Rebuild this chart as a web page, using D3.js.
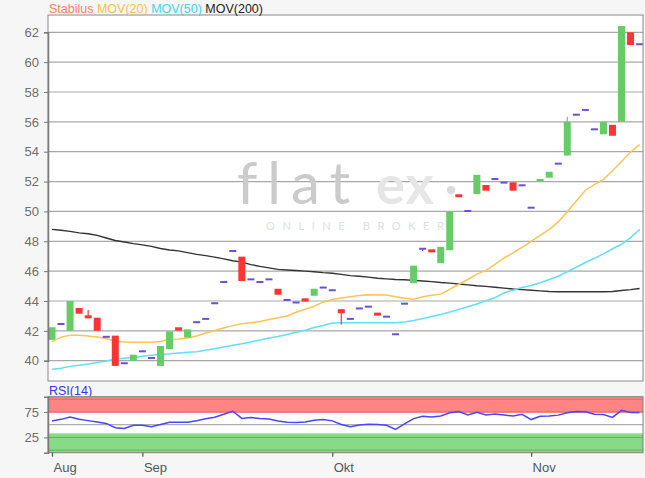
<!DOCTYPE html>
<html><head><meta charset="utf-8">
<script src="https://cdn.jsdelivr.net/npm/d3@7"></script>
<style>
html,body{margin:0;padding:0;background:#f6f6f6;}
svg{display:block;font-family:"Liberation Sans",Arial,sans-serif;}
</style></head><body>
<svg id="c" width="645" height="478"></svg>
<script>
// ---------- data ----------
const dates = [
 "2023-08-18","2023-08-21","2023-08-22","2023-08-23","2023-08-24","2023-08-25","2023-08-28","2023-08-29","2023-08-30","2023-08-31",
 "2023-09-01","2023-09-04","2023-09-05","2023-09-06","2023-09-07","2023-09-08","2023-09-11","2023-09-12","2023-09-13","2023-09-14",
 "2023-09-15","2023-09-18","2023-09-19","2023-09-20","2023-09-21","2023-09-22","2023-09-25","2023-09-26","2023-09-27","2023-09-28",
 "2023-09-29","2023-10-02","2023-10-03","2023-10-04","2023-10-05","2023-10-06","2023-10-09","2023-10-10","2023-10-11","2023-10-12",
 "2023-10-13","2023-10-16","2023-10-17","2023-10-18","2023-10-19","2023-10-20","2023-10-23","2023-10-24","2023-10-25","2023-10-26",
 "2023-10-27","2023-10-30","2023-10-31","2023-11-01","2023-11-02","2023-11-03","2023-11-06","2023-11-07","2023-11-08","2023-11-09",
 "2023-11-10","2023-11-13","2023-11-14","2023-11-15","2023-11-16","2023-11-17"];
const open = [
 41.40,42.46,42.00,43.53,43.04,42.88,41.60,41.68,39.83,39.98,
 40.63,40.18,39.65,40.77,42.24,41.55,42.58,42.80,43.85,45.27,
 47.35,46.97,45.45,45.27,45.45,44.82,44.07,43.90,44.18,44.35,
 44.90,44.72,43.45,42.80,43.50,43.62,43.22,42.95,41.77,43.82,
 45.19,47.50,47.46,46.53,47.40,51.15,50.03,51.17,51.77,52.17,
 51.93,51.95,51.75,50.25,52.00,52.26,53.20,53.75,56.48,56.80,
 55.50,55.17,55.80,56.00,62.00,61.20];
const close = [
 42.24,42.46,44.00,43.15,42.84,42.00,41.60,39.65,39.83,40.40,
 40.63,40.18,40.99,41.97,42.01,42.10,42.58,42.80,43.85,45.27,
 47.35,45.34,45.45,45.27,45.45,44.42,44.07,43.90,43.96,44.82,
 44.90,44.72,43.18,42.80,43.50,43.62,43.02,42.95,41.77,43.82,
 46.37,47.50,47.26,47.63,50.00,50.95,50.03,52.45,51.39,52.17,
 51.93,51.39,51.75,50.25,52.17,52.66,53.20,56.00,56.48,56.80,
 55.50,56.00,55.07,62.42,61.15,61.20];
const high = [
 42.24,42.46,44.00,43.53,43.40,42.88,41.60,41.68,39.83,40.40,
 40.63,40.18,40.99,41.97,42.24,42.10,42.58,42.80,43.85,45.27,
 47.35,46.97,45.45,45.27,45.45,44.82,44.07,43.90,44.18,44.82,
 44.90,44.72,43.45,42.80,43.50,43.62,43.22,42.95,41.77,43.82,
 46.37,47.50,47.46,47.63,50.00,51.15,50.03,52.45,51.77,52.17,
 51.93,51.95,51.75,50.25,52.17,52.66,53.20,56.35,56.48,56.80,
 55.50,56.00,55.80,62.42,62.00,61.20];
const low = [
 41.40,42.46,42.00,43.15,42.84,42.00,41.60,39.65,39.83,39.98,
 40.63,40.18,39.65,40.77,42.01,41.55,42.58,42.80,43.85,45.27,
 47.35,45.34,45.45,45.27,45.45,44.42,44.07,43.90,43.96,44.35,
 44.90,44.72,42.40,42.80,43.50,43.62,43.02,42.95,41.77,43.82,
 45.19,47.35,47.26,46.53,47.40,50.95,50.03,51.17,51.39,52.17,
 51.93,51.39,51.75,50.25,52.00,52.26,53.20,53.75,56.48,56.80,
 55.50,55.17,55.07,56.00,61.15,61.20];
const mov20 = [
 41.28,41.58,41.70,41.70,41.66,41.58,41.48,41.32,41.25,41.24,
 41.24,41.24,41.28,41.44,41.46,41.52,41.66,41.85,42.02,42.19,
 42.35,42.48,42.55,42.62,42.76,42.88,43.00,43.25,43.45,43.65,
 43.92,44.10,44.20,44.28,44.36,44.42,44.40,44.40,44.28,44.18,
 44.12,44.28,44.38,44.46,44.78,45.12,45.44,45.80,46.05,46.46,
 46.88,47.22,47.60,48.00,48.40,48.80,49.30,49.98,50.70,51.42,
 51.80,52.15,52.72,53.35,53.98,54.48];
const mov50 = [
 39.43,39.50,39.62,39.70,39.78,39.88,39.98,40.10,40.16,40.22,
 40.30,40.36,40.42,40.46,40.52,40.56,40.60,40.70,40.80,40.92,
 41.04,41.14,41.26,41.38,41.52,41.62,41.76,41.90,42.04,42.22,
 42.36,42.52,42.55,42.55,42.55,42.55,42.55,42.55,42.55,42.60,
 42.70,42.82,42.96,43.10,43.26,43.44,43.62,43.80,44.02,44.22,
 44.54,44.72,44.90,45.04,45.22,45.44,45.66,45.96,46.26,46.58,
 46.86,47.16,47.50,47.80,48.24,48.80];
const mov200 = [
 48.80,48.74,48.66,48.56,48.50,48.40,48.22,48.05,47.95,47.84,
 47.76,47.66,47.52,47.42,47.36,47.24,47.12,47.04,46.94,46.82,
 46.70,46.60,46.44,46.32,46.22,46.12,46.08,46.04,46.00,45.96,
 45.90,45.86,45.78,45.70,45.66,45.60,45.52,45.48,45.44,45.42,
 45.38,45.34,45.30,45.24,45.20,45.14,45.08,45.02,44.98,44.92,
 44.86,44.80,44.76,44.72,44.68,44.64,44.62,44.62,44.62,44.62,
 44.62,44.62,44.64,44.70,44.76,44.84];
const rsi = [
 57.4,60.5,65.0,60.8,58.0,55.5,52.5,44.0,42.6,48.8,
 49.0,46.0,50.4,55.0,54.9,54.9,57.8,61.5,64.5,70.5,
 76.4,62.3,64.0,62.1,61.2,57.2,55.0,54.3,55.2,58.6,
 60.1,57.5,50.5,46.0,49.5,51.0,50.4,49.0,40.8,51.5,
 62.0,66.4,65.2,67.2,73.6,75.8,69.2,74.4,69.3,71.1,
 69.0,67.2,70.4,60.1,66.5,67.0,68.8,73.6,75.8,75.2,
 70.6,70.0,64.3,78.3,73.8,73.8];
const priceTicks = [40,42,44,46,48,50,52,54,56,58,60,62];
const rsiTicks = [25,75];
const monthTickDates = ["2023-08-18","2023-09-01","2023-10-02","2023-11-01"];
const monthTickLabels = ["Aug","Sep","Okt","Nov"];
const legendItems = ["Stabilus","MOV(20)","MOV(50)","MOV(200)"];

// ---------- layout ----------
const L = 48, R = 643;
const mainTop = 15, mainBot = 381;
const rsiTop = 396.7, rsiBot = 452.7;
const svg = d3.select("#c");

const xs = d3.scalePoint().domain(dates).range([52, 639.6]);
const ys = d3.scaleLinear().domain([40, 62]).range([360.7, 32.3]);
const rs = d3.scaleLinear().domain([-5, 105]).range([rsiBot, rsiTop]);

// main plot background
svg.append("rect").attr("x", L).attr("y", mainTop).attr("width", R - L).attr("height", mainBot - mainTop).attr("fill", "#fff");

// grid
svg.append("g").selectAll("line").data(priceTicks).join("line")
  .attr("x1", L).attr("x2", R).attr("y1", d => ys(d)).attr("y2", d => ys(d))
  .attr("stroke", "#a8a8a8").attr("stroke-width", 1.2);

// watermark
const wm = svg.append("g");
wm.append("text").attr("x", 237).attr("y", 204).text("flat")
  .attr("font-family", "Lato, 'Open Sans', sans-serif").attr("font-weight", 400)
  .attr("font-size", 58).attr("letter-spacing", 10).attr("fill", "#cbcbcb");
wm.append("text").attr("x", 376).attr("y", 204).text("ex")
  .attr("font-family", "Lato, 'Open Sans', sans-serif").attr("font-weight", 700)
  .attr("font-size", 54).attr("letter-spacing", 1).attr("fill", "#e6e6e6");
wm.append("circle").attr("cx", 451).attr("cy", 190).attr("r", 4).attr("fill", "#dadada");
wm.append("text").attr("x", 266).attr("y", 230).text("ONLINE BROKER")
  .attr("font-family", "Lato, 'Open Sans', sans-serif").attr("font-size", 11)
  .attr("letter-spacing", 7.6).attr("fill", "#e0e0e0");

// moving averages
const line = arr => d3.line().x((d, i) => xs(dates[i])).y(d => ys(d))(arr);
svg.append("path").attr("d", line(mov200)).attr("fill", "none").attr("stroke", "#333").attr("stroke-width", 1.4);
svg.append("path").attr("d", line(mov50)).attr("fill", "none").attr("stroke", "#5fe0f7").attr("stroke-width", 1.5);
svg.append("path").attr("d", line(mov20)).attr("fill", "none").attr("stroke", "#ffc450").attr("stroke-width", 1.5);

// candles
const idx = d3.range(dates.length);
const col = i => open[i] === close[i] ? "#6b4fd8" : (close[i] > open[i] ? "#66cc66" : "#ff3333");
const cg = svg.append("g");
cg.selectAll("line").data(idx.filter(i => high[i] > Math.max(open[i], close[i]) || low[i] < Math.min(open[i], close[i])))
  .join("line")
  .attr("x1", i => xs(dates[i])).attr("x2", i => xs(dates[i]))
  .attr("y1", i => ys(high[i])).attr("y2", i => ys(low[i]))
  .attr("stroke", col).attr("stroke-width", 1.2);
cg.selectAll("rect").data(idx).join("rect")
  .attr("x", i => xs(dates[i]) - 3.5).attr("width", 7)
  .attr("y", i => open[i] === close[i] ? ys(open[i]) - 1 : ys(Math.max(open[i], close[i])))
  .attr("height", i => open[i] === close[i] ? 2 : Math.max(2, ys(Math.min(open[i], close[i])) - ys(Math.max(open[i], close[i]))))
  .attr("fill", col);

// main frame
svg.append("rect").attr("x", L).attr("y", mainTop).attr("width", R - L).attr("height", mainBot - mainTop)
  .attr("fill", "none").attr("stroke", "#8a8a8a").attr("stroke-width", 1);

// y axis
const ya = svg.append("g").attr("transform", `translate(${L},0)`)
  .call(d3.axisLeft(ys).tickValues(priceTicks).tickSize(4).tickPadding(5).tickFormat(d3.format("d")));
ya.select(".domain").attr("stroke", "#7a7a7a").attr("stroke-width", 1.5);
ya.selectAll(".tick line").attr("stroke", "#777");
ya.selectAll("text").attr("fill", "#6e6e6e").attr("font-size", 13).attr("font-family", "'Liberation Sans',Arial,sans-serif");

// legend
const colors = ["#ff7f62", "#ffbf40", "#45d2f2", "#222"];
const lg = svg.append("text").attr("x", 49).attr("y", 12.5).attr("font-size", 12.5);
legendItems.forEach((t, k) => lg.append("tspan").text((k ? " " : "") + t).attr("fill", colors[k]));

// RSI panel
svg.append("text").attr("x", 49).attr("y", 394.5).attr("font-size", 12.5).attr("fill", "#3333ff").text("RSI(14)");
svg.append("rect").attr("x", L).attr("y", rsiTop).attr("width", R - L).attr("height", rsiBot - rsiTop).attr("fill", "#fff");
svg.append("rect").attr("x", L).attr("y", rs(105)).attr("width", R - L).attr("height", rs(73.5) - rs(105)).attr("fill", "#ff8484");
svg.append("rect").attr("x", L).attr("y", rs(33)).attr("width", R - L).attr("height", rs(-5) - rs(33)).attr("fill", "#88da88");
[[100, "#d86a6a"], [75, "#d86a6a"], [50, "#9a9a9a"], [25, "#5fae5f"], [0, "#5fae5f"]].forEach(([v, c]) =>
  svg.append("line").attr("x1", L).attr("x2", R).attr("y1", rs(v)).attr("y2", rs(v)).attr("stroke", c).attr("stroke-width", 1));
svg.append("path").attr("d", d3.line().x((d, i) => xs(dates[i])).y(d => rs(d))(rsi))
  .attr("fill", "none").attr("stroke", "#4646ff").attr("stroke-width", 1.5);
svg.append("rect").attr("x", L).attr("y", rsiTop).attr("width", R - L).attr("height", rsiBot - rsiTop)
  .attr("fill", "none").attr("stroke", "#7f7f7f").attr("stroke-width", 1);
const ra = svg.append("g").attr("transform", `translate(${L},0)`)
  .call(d3.axisLeft(rs).tickValues(rsiTicks).tickSize(4).tickPadding(5));
ra.select(".domain").attr("stroke", "#7a7a7a").attr("stroke-width", 1.5);
ra.selectAll(".tick line").attr("stroke", "#777");
ra.selectAll("text").attr("fill", "#6e6e6e").attr("font-size", 13).attr("font-family", "'Liberation Sans',Arial,sans-serif");

// x axis
const xa = svg.append("g").attr("transform", `translate(0,${rsiBot})`)
  .call(d3.axisBottom(xs).tickValues(monthTickDates).tickSize(4).tickFormat((d, k) => monthTickLabels[k]));
xa.select(".domain").remove();
xa.selectAll(".tick line").attr("stroke", "#4c5866").attr("stroke-width", 1.2);
xa.selectAll("text").attr("text-anchor", "start").attr("x", 1).attr("y", 10.5)
  .attr("fill", "#4c5866").attr("font-size", 13).attr("font-family", "'Liberation Sans',Arial,sans-serif");
</script>
</body></html>
